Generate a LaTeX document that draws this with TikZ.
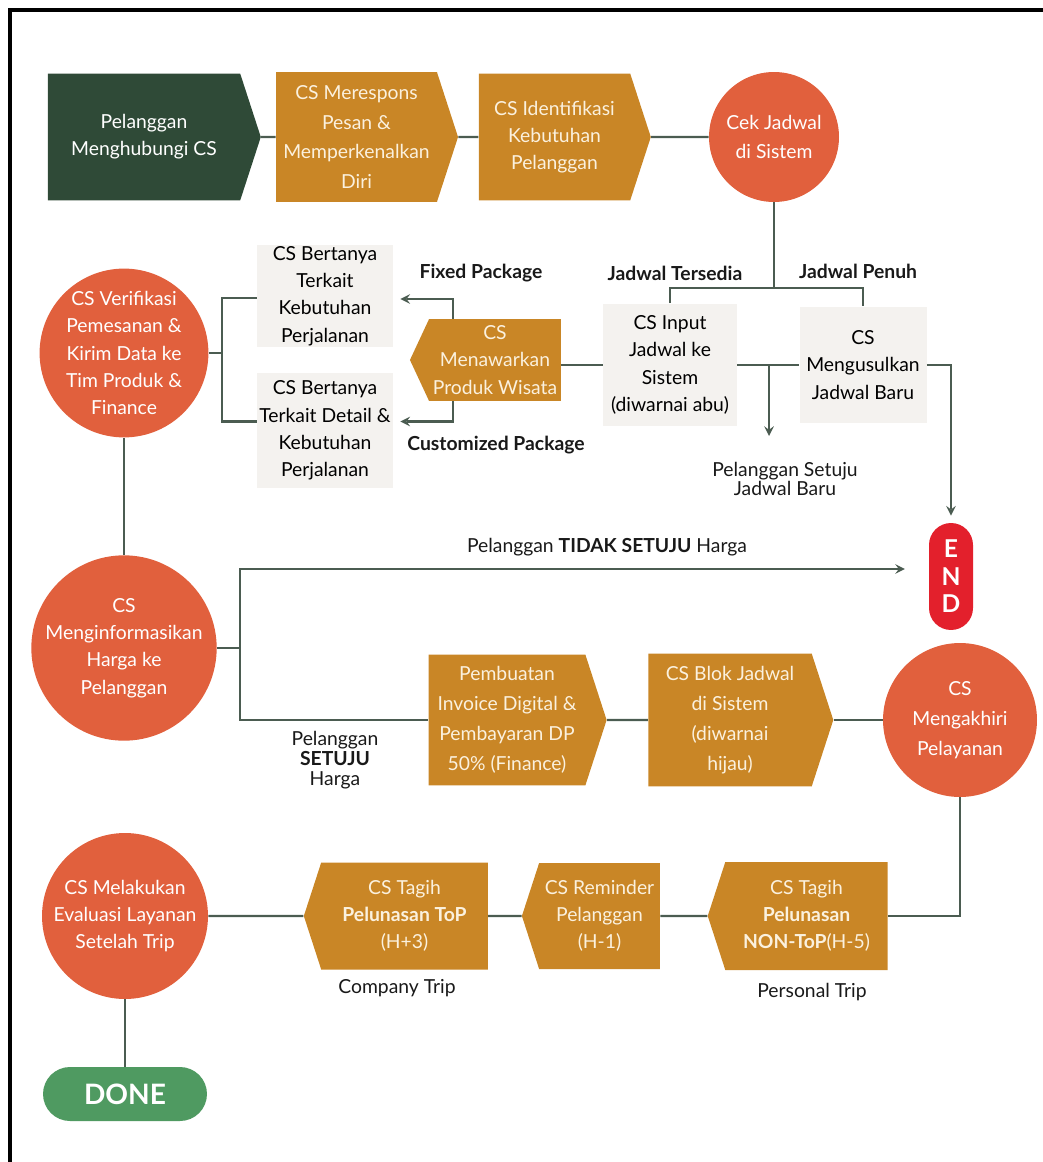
\documentclass[tikz,border=0pt]{standalone}
\usepackage{fontspec}
\setmainfont{Lato}
\usepackage{xcolor}
\usetikzlibrary{shapes.symbols}

\definecolor{ink}{HTML}{4B5C51}
\definecolor{forest}{HTML}{2F4A37}
\definecolor{ochre}{HTML}{C98626}
\definecolor{tomato}{HTML}{E1603D}
\definecolor{paper}{HTML}{F4F2EF}
\definecolor{endred}{HTML}{E3202C}
\definecolor{donegreen}{HTML}{4F9A61}
\definecolor{cream}{HTML}{FBF1DE}

\begin{document}
\begin{tikzpicture}[
            x = 0.02cm, y = -0.02cm, % one unit = one pixel of the sketch
            > = stealth, % arrow head style
            every node/.style = {font=\fontsize{11}{15.5}\selectfont, align=center, inner sep=0pt},
            flow/.style = {shape=signal, signal to=east, signal pointer angle=144, fill=ochre, text=cream},
            bubble/.style = {shape=circle, fill=tomato, text=white},
            greybox/.style = {shape=rectangle, fill=paper, text=black},
            lbl/.style = {text=black!90},
            link/.style = {draw=ink, line width=1.4pt},
            arrow/.style = {link, ->, shorten > = 4pt}
        ]

\useasboundingbox (0,0) rectangle (1043,1162);
\draw[line width=0.08cm] (10,1200) -- (10,10) -- (1100,10);

% first row
\node[flow, fill=forest, text=white, minimum width=4.26cm, minimum height=2.54cm] (P_hub) at (144,137) {Pelanggan\\Menghubungi CS};
\node[flow, minimum width=3.64cm, minimum height=2.6cm, font=\fontsize{11}{17}\selectfont] (CS_resp) at (356.5,137) {CS Merespons\\Pesan \&\\Memperkenalkan\\Diri};
\node[flow, minimum width=3.44cm, minimum height=2.54cm] (CS_id) at (554.5,137) {CS Identifikasi\\Kebutuhan\\Pelanggan};
\node[bubble, minimum size=2.6cm, font=\fontsize{11}{17}\selectfont] (Cek) at (774,137) {Cek Jadwal\\di Sistem};

% schedule check
\node[greybox, minimum width=2.68cm, minimum height=2.46cm] (Input) at (670,365) {CS Input\\Jadwal ke\\Sistem\\(diwarnai abu)};
\node[greybox, minimum width=2.54cm, minimum height=2.34cm] (Usul) at (863,365) {CS\\Mengusulkan\\Jadwal Baru};
\node[flow, signal to=west, signal pointer angle=130, minimum width=3.02cm, minimum height=1.64cm] (Tawar) at (495,360) {CS\\Menawarkan\\Produk Wisata};
\node[greybox, minimum width=2.72cm, minimum height=2.04cm] (Fixed) at (325,296) {CS Bertanya\\Terkait\\Kebutuhan\\Perjalanan};
\node[greybox, minimum width=2.72cm, minimum height=2.3cm] (Custom) at (325,430.5) {CS Bertanya\\Terkait Detail \&\\Kebutuhan\\Perjalanan};
\node[bubble, minimum size=3.28cm] (Verif) at (124,353) {CS Verifikasi\\Pemesanan \&\\Kirim Data ke\\Tim Produk \&\\Finance};

% price
\node[bubble, minimum size=3.28cm] (Info) at (124,648) {CS\\Menginformasikan\\Harga ke\\Pelanggan};
\node[shape=rectangle, rounded corners=0.44cm, fill=endred, text=white, minimum width=0.88cm, minimum height=2.14cm, font=\bfseries\fontsize{14}{15.6}\selectfont] (END) at (951,576.5) {E\\N\\D};
\node[flow, minimum width=3.56cm, minimum height=2.62cm, font=\fontsize{11}{17}\selectfont] (Invoice) at (507,720) {Pembuatan\\Invoice Digital \&\\Pembayaran DP\\50\% (Finance)};
\node[flow, minimum width=3.7cm, minimum height=2.66cm, font=\fontsize{11}{17}\selectfont] (Blok) at (730,720) {CS Blok Jadwal\\di Sistem\\(diwarnai\\hijau)};
\node[bubble, minimum size=3.08cm, font=\fontsize{11}{17}\selectfont] (Akhir) at (960,720) {CS\\Mengakhiri\\Pelayanan};

% payment
\node[flow, signal to=west, minimum width=3.6cm, minimum height=2.16cm] (NonToP) at (806.5,916) {CS Tagih\\\textbf{Pelunasan}\\\textbf{NON-ToP}(H-5)};
\node[flow, signal to=west, minimum width=2.76cm, minimum height=2.12cm] (Remind) at (599.5,916) {CS Reminder\\Pelanggan\\(H-1)};
\node[flow, signal to=west, minimum width=3.68cm, minimum height=2.14cm] (ToP) at (404.5,916) {CS Tagih\\\textbf{Pelunasan ToP}\\(H+3)};
\node[bubble, minimum size=3.32cm] (Eval) at (125,916) {CS Melakukan\\Evaluasi Layanan\\Setelah Trip};
\node[shape=rectangle, rounded corners=0.54cm, fill=donegreen, text=white, minimum width=3.28cm, minimum height=1.08cm, font=\bfseries\fontsize{16}{18}\selectfont] (DONE) at (125,1094) {DONE};

% labels
\node[lbl, font=\bfseries\fontsize{11}{13}\selectfont] (tersedia) at (675,273) {Jadwal Tersedia};
\node[lbl, font=\bfseries\fontsize{11}{13}\selectfont] (penuh) at (858,271) {Jadwal Penuh};
\node[lbl, font=\bfseries\fontsize{11}{13}\selectfont] (fixed_lbl) at (481,273) {Fixed Package};
\node[lbl, font=\bfseries\fontsize{11}{13}\selectfont] (custom_lbl) at (496,445) {Customized Package};
\node[lbl, font=\fontsize{11}{10.5}\selectfont] (setuju) at (785,479) {Pelanggan Setuju\\Jadwal Baru};
\node[lbl] (tidak_lbl) at (607,547) {Pelanggan \textbf{TIDAK SETUJU} Harga};
\node[lbl, font=\fontsize{11}{11.5}\selectfont] (setuju_lbl) at (335,760) {Pelanggan\\\textbf{SETUJU}\\Harga};
\node[lbl] (company) at (397,988) {Company Trip};
\node[lbl] (personal) at (812,992) {Personal Trip};

\coordinate (split) at (774,288);
\coordinate (setuju_top) at (769,443);
\coordinate (brace) at (222,353);
\coordinate (split2) at (240,648);
\coordinate (no_deal) at (912,569);

 \path[link] (P_hub) edge (CS_resp);
 \path[link] (CS_resp) edge (CS_id);
 \path[link] (CS_id) edge (Cek);
 \draw[link] (Cek.south) -- (split);
 \draw[link] (Input.north) |- (split) -| (Usul.north);
 \draw[link] (Input.west) -- (Input.west -| Tawar.east);
 \draw[link] (Input.east) -- (Usul.west);
 \draw[arrow] (setuju_top |- Input.east) -- (setuju_top);
 \draw[arrow] (Usul.east) -| (END.north);
 \draw[arrow] ([xshift=-0.84cm]Tawar.north) |- ([yshift=-0.06cm]Fixed.east);
 \draw[arrow] ([xshift=-0.84cm]Tawar.south) |- ([yshift=0.18cm]Custom.east);
 \draw[link] ([yshift=-0.04cm]Fixed.west) -| (brace) |- ([yshift=0.18cm]Custom.west);
 \draw[link] (Verif.east) -- (brace);
 \path[link] (Verif) edge (Info);
 \draw[link] (Info.east) -- (split2);
 \draw[arrow] (split2) |- (no_deal);
 \draw[link] (split2) |- (Invoice.west);
 \path[link] (Invoice) edge (Blok);
 \path[link] (Blok) edge (Akhir);
 \draw[link] (Akhir.south) |- (NonToP.east);
 \path[link] (NonToP) edge (Remind);
 \path[link] (Remind) edge (ToP);
 \path[link] (ToP) edge (Eval);
 \path[link] (Eval) edge (DONE);
\end{tikzpicture}
\end{document}
